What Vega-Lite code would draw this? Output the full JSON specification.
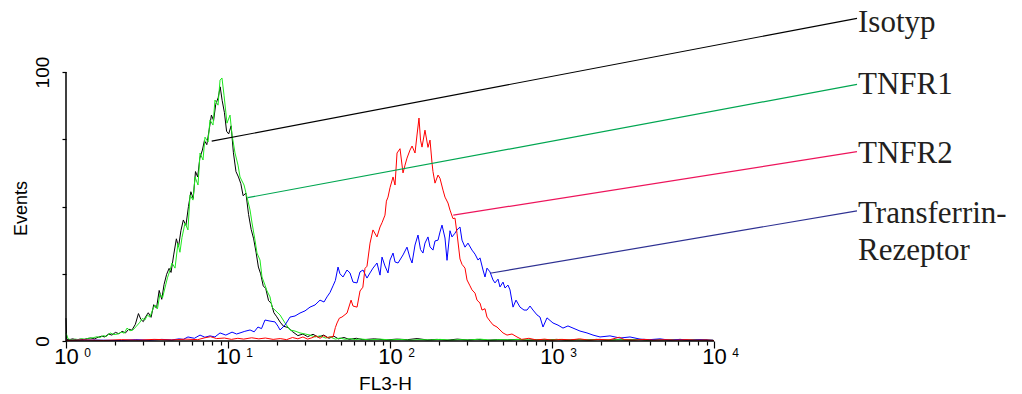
{
"$schema":"https://vega.github.io/schema/vega-lite/v6.json",
"width":956,"height":341,
"autosize":"none",
"padding":{"left":66,"top":0,"right":0,"bottom":53},
"background":"white",
"config":{"view":{"stroke":null},"font":"Liberation Sans"},
"datasets":{
"hist":[
{"s":"Isotyp","x":1.0,"y":8.5},{"s":"Isotyp","x":1.01,"y":0.6},{"s":"Isotyp","x":1.05,"y":0.5},{"s":"Isotyp","x":1.10,"y":0.8},{"s":"Isotyp","x":1.16,"y":0.4},{"s":"Isotyp","x":1.22,"y":0.7},{"s":"Isotyp","x":1.28,"y":0.5},{"s":"Isotyp","x":1.35,"y":0.9},{"s":"Isotyp","x":1.42,"y":1.1},{"s":"Isotyp","x":1.50,"y":0.8},{"s":"Isotyp","x":1.58,"y":1.4},{"s":"Isotyp","x":1.66,"y":1.8},{"s":"Isotyp","x":1.74,"y":1.5},{"s":"Isotyp","x":1.83,"y":2.6},{"s":"Isotyp","x":1.92,"y":2.2},{"s":"Isotyp","x":2.02,"y":3.2},{"s":"Isotyp","x":2.12,"y":2.7},{"s":"Isotyp","x":2.22,"y":3.6},{"s":"Isotyp","x":2.33,"y":3.0},{"s":"Isotyp","x":2.44,"y":4.4},{"s":"Isotyp","x":2.55,"y":4.0},{"s":"Isotyp","x":2.68,"y":6.2},{"s":"Isotyp","x":2.80,"y":10.2},{"s":"Isotyp","x":2.90,"y":8.0},{"s":"Isotyp","x":3.00,"y":7.2},{"s":"Isotyp","x":3.10,"y":9.0},{"s":"Isotyp","x":3.22,"y":10.5},{"s":"Isotyp","x":3.35,"y":8.8},{"s":"Isotyp","x":3.48,"y":13.5},{"s":"Isotyp","x":3.62,"y":12.2},{"s":"Isotyp","x":3.76,"y":18.8},{"s":"Isotyp","x":3.90,"y":15.5},{"s":"Isotyp","x":4.03,"y":21.0},{"s":"Isotyp","x":4.18,"y":24.8},{"s":"Isotyp","x":4.33,"y":27.0},{"s":"Isotyp","x":4.45,"y":25.5},{"s":"Isotyp","x":4.62,"y":32.0},{"s":"Isotyp","x":4.80,"y":38.0},{"s":"Isotyp","x":4.95,"y":35.0},{"s":"Isotyp","x":5.12,"y":41.0},{"s":"Isotyp","x":5.30,"y":45.0},{"s":"Isotyp","x":5.50,"y":43.0},{"s":"Isotyp","x":5.70,"y":50.0},{"s":"Isotyp","x":5.90,"y":55.5},{"s":"Isotyp","x":6.10,"y":53.0},{"s":"Isotyp","x":6.30,"y":63.0},{"s":"Isotyp","x":6.50,"y":61.0},{"s":"Isotyp","x":6.70,"y":68.0},{"s":"Isotyp","x":6.95,"y":71.0},{"s":"Isotyp","x":7.15,"y":74.5},{"s":"Isotyp","x":7.40,"y":73.0},{"s":"Isotyp","x":7.65,"y":78.5},{"s":"Isotyp","x":7.90,"y":84.0},{"s":"Isotyp","x":8.15,"y":82.0},{"s":"Isotyp","x":8.40,"y":88.0},{"s":"Isotyp","x":8.70,"y":90.5},{"s":"Isotyp","x":8.95,"y":94.5},{"s":"Isotyp","x":9.20,"y":89.5},{"s":"Isotyp","x":9.50,"y":85.0},{"s":"Isotyp","x":9.80,"y":78.0},{"s":"Isotyp","x":10.10,"y":77.0},{"s":"Isotyp","x":10.45,"y":80.0},{"s":"Isotyp","x":10.80,"y":70.0},{"s":"Isotyp","x":11.20,"y":63.0},{"s":"Isotyp","x":11.60,"y":61.0},{"s":"Isotyp","x":12.00,"y":58.5},{"s":"Isotyp","x":12.40,"y":54.0},{"s":"Isotyp","x":12.90,"y":55.0},{"s":"Isotyp","x":13.40,"y":47.0},{"s":"Isotyp","x":13.90,"y":41.5},{"s":"Isotyp","x":14.40,"y":38.0},{"s":"Isotyp","x":14.90,"y":33.0},{"s":"Isotyp","x":15.40,"y":27.5},{"s":"Isotyp","x":15.90,"y":25.0},{"s":"Isotyp","x":16.50,"y":20.5},{"s":"Isotyp","x":17.10,"y":19.5},{"s":"Isotyp","x":17.80,"y":15.0},{"s":"Isotyp","x":18.50,"y":14.0},{"s":"Isotyp","x":19.20,"y":10.5},{"s":"Isotyp","x":20.0,"y":9.0},{"s":"Isotyp","x":21.0,"y":7.0},{"s":"Isotyp","x":22.0,"y":5.5},{"s":"Isotyp","x":23.5,"y":5.0},{"s":"Isotyp","x":25.0,"y":3.5},{"s":"Isotyp","x":27.0,"y":2.0},{"s":"Isotyp","x":29.0,"y":2.6},{"s":"Isotyp","x":31.0,"y":1.6},{"s":"Isotyp","x":33.5,"y":2.5},{"s":"Isotyp","x":36.0,"y":1.4},{"s":"Isotyp","x":39.0,"y":2.2},{"s":"Isotyp","x":42.0,"y":1.0},{"s":"Isotyp","x":45.0,"y":1.8},{"s":"Isotyp","x":48.0,"y":0.8},{"s":"Isotyp","x":52.0,"y":1.3},{"s":"Isotyp","x":56.0,"y":0.6},{"s":"Isotyp","x":62.0,"y":1.0},{"s":"Isotyp","x":68.0,"y":0.5},{"s":"Isotyp","x":80.0,"y":0.8},{"s":"Isotyp","x":95.0,"y":0.4},{"s":"Isotyp","x":110,"y":0.7},{"s":"Isotyp","x":128,"y":0.5},{"s":"Isotyp","x":147,"y":0.9},{"s":"Isotyp","x":170,"y":0.4},{"s":"Isotyp","x":195,"y":0.6},{"s":"Isotyp","x":225,"y":0.3},{"s":"Isotyp","x":260,"y":0.7},{"s":"Isotyp","x":300,"y":0.4},{"s":"Isotyp","x":345,"y":0.6},{"s":"Isotyp","x":400,"y":0.3},{"s":"Isotyp","x":460,"y":0.5},{"s":"Isotyp","x":530,"y":0.4},{"s":"Isotyp","x":610,"y":0.6},{"s":"Isotyp","x":700,"y":0.3},{"s":"Isotyp","x":800,"y":0.5},{"s":"Isotyp","x":930,"y":0.4},{"s":"Isotyp","x":1070,"y":0.6},{"s":"Isotyp","x":1230,"y":0.3},{"s":"Isotyp","x":1420,"y":0.5},{"s":"Isotyp","x":1640,"y":0.4},{"s":"Isotyp","x":1890,"y":0.6},{"s":"Isotyp","x":2180,"y":0.3},{"s":"Isotyp","x":2510,"y":0.5},{"s":"Isotyp","x":2900,"y":0.4},{"s":"Isotyp","x":3350,"y":0.6},{"s":"Isotyp","x":3860,"y":0.3},{"s":"Isotyp","x":4450,"y":0.5},{"s":"Isotyp","x":5130,"y":0.4},{"s":"Isotyp","x":5920,"y":0.5},{"s":"Isotyp","x":6830,"y":0.3},{"s":"Isotyp","x":7880,"y":0.5},{"s":"Isotyp","x":9100,"y":0.4},
{"s":"TNFR1","x":1.0,"y":3.0},{"s":"TNFR1","x":1.03,"y":0.8},{"s":"TNFR1","x":1.08,"y":0.4},{"s":"TNFR1","x":1.14,"y":0.7},{"s":"TNFR1","x":1.20,"y":0.5},{"s":"TNFR1","x":1.26,"y":0.9},{"s":"TNFR1","x":1.31,"y":0.6},{"s":"TNFR1","x":1.38,"y":1.0},{"s":"TNFR1","x":1.47,"y":1.2},{"s":"TNFR1","x":1.55,"y":1.6},{"s":"TNFR1","x":1.62,"y":1.3},{"s":"TNFR1","x":1.70,"y":2.0},{"s":"TNFR1","x":1.78,"y":1.7},{"s":"TNFR1","x":1.87,"y":3.0},{"s":"TNFR1","x":1.98,"y":2.4},{"s":"TNFR1","x":2.09,"y":2.6},{"s":"TNFR1","x":2.20,"y":3.3},{"s":"TNFR1","x":2.29,"y":2.9},{"s":"TNFR1","x":2.38,"y":4.8},{"s":"TNFR1","x":2.48,"y":3.8},{"s":"TNFR1","x":2.59,"y":4.1},{"s":"TNFR1","x":2.72,"y":5.5},{"s":"TNFR1","x":2.86,"y":7.0},{"s":"TNFR1","x":2.96,"y":8.4},{"s":"TNFR1","x":3.07,"y":7.8},{"s":"TNFR1","x":3.18,"y":9.6},{"s":"TNFR1","x":3.30,"y":8.9},{"s":"TNFR1","x":3.42,"y":11.5},{"s":"TNFR1","x":3.54,"y":13.4},{"s":"TNFR1","x":3.67,"y":12.0},{"s":"TNFR1","x":3.80,"y":17.5},{"s":"TNFR1","x":3.94,"y":16.0},{"s":"TNFR1","x":4.08,"y":19.7},{"s":"TNFR1","x":4.23,"y":23.5},{"s":"TNFR1","x":4.39,"y":26.4},{"s":"TNFR1","x":4.51,"y":29.0},{"s":"TNFR1","x":4.71,"y":27.1},{"s":"TNFR1","x":4.91,"y":36.4},{"s":"TNFR1","x":5.05,"y":33.0},{"s":"TNFR1","x":5.20,"y":38.5},{"s":"TNFR1","x":5.43,"y":43.9},{"s":"TNFR1","x":5.66,"y":41.3},{"s":"TNFR1","x":5.83,"y":54.3},{"s":"TNFR1","x":6.08,"y":52.4},{"s":"TNFR1","x":6.26,"y":61.0},{"s":"TNFR1","x":6.53,"y":58.0},{"s":"TNFR1","x":6.72,"y":69.9},{"s":"TNFR1","x":7.01,"y":67.3},{"s":"TNFR1","x":7.21,"y":75.8},{"s":"TNFR1","x":7.53,"y":74.0},{"s":"TNFR1","x":7.74,"y":82.2},{"s":"TNFR1","x":8.08,"y":80.3},{"s":"TNFR1","x":8.31,"y":89.6},{"s":"TNFR1","x":8.68,"y":87.7},{"s":"TNFR1","x":8.93,"y":97.0},{"s":"TNFR1","x":9.18,"y":97.8},{"s":"TNFR1","x":9.45,"y":91.4},{"s":"TNFR1","x":9.86,"y":81.0},{"s":"TNFR1","x":10.29,"y":84.0},{"s":"TNFR1","x":10.59,"y":76.6},{"s":"TNFR1","x":11.05,"y":69.9},{"s":"TNFR1","x":11.53,"y":65.4},{"s":"TNFR1","x":11.86,"y":61.0},{"s":"TNFR1","x":12.56,"y":58.0},{"s":"TNFR1","x":13.10,"y":53.5},{"s":"TNFR1","x":13.68,"y":48.7},{"s":"TNFR1","x":14.07,"y":43.9},{"s":"TNFR1","x":14.68,"y":37.5},{"s":"TNFR1","x":15.10,"y":32.7},{"s":"TNFR1","x":15.76,"y":30.1},{"s":"TNFR1","x":16.21,"y":23.8},{"s":"TNFR1","x":16.92,"y":20.8},{"s":"TNFR1","x":17.41,"y":18.6},{"s":"TNFR1","x":18.17,"y":16.4},{"s":"TNFR1","x":18.69,"y":12.6},{"s":"TNFR1","x":19.50,"y":11.5},{"s":"TNFR1","x":20.35,"y":10.4},{"s":"TNFR1","x":20.94,"y":9.7},{"s":"TNFR1","x":22.48,"y":6.7},{"s":"TNFR1","x":24.14,"y":4.1},{"s":"TNFR1","x":25.92,"y":3.7},{"s":"TNFR1","x":27.83,"y":3.0},{"s":"TNFR1","x":30.0,"y":2.6},{"s":"TNFR1","x":32.08,"y":2.2},{"s":"TNFR1","x":34.5,"y":1.5},{"s":"TNFR1","x":36.98,"y":1.9},{"s":"TNFR1","x":40.0,"y":1.1},{"s":"TNFR1","x":42.62,"y":1.5},{"s":"TNFR1","x":46.0,"y":0.7},{"s":"TNFR1","x":49.14,"y":1.1},{"s":"TNFR1","x":53.0,"y":0.6},{"s":"TNFR1","x":56.64,"y":0.9},{"s":"TNFR1","x":61.0,"y":0.5},{"s":"TNFR1","x":65.29,"y":0.8},{"s":"TNFR1","x":75.0,"y":0.4},{"s":"TNFR1","x":86.77,"y":0.7},{"s":"TNFR1","x":100,"y":0.4},{"s":"TNFR1","x":115.3,"y":0.6},{"s":"TNFR1","x":135,"y":0.3},{"s":"TNFR1","x":153.2,"y":0.5},{"s":"TNFR1","x":180,"y":0.4},{"s":"TNFR1","x":203.5,"y":0.6},{"s":"TNFR1","x":240,"y":0.3},{"s":"TNFR1","x":270.4,"y":0.5},{"s":"TNFR1","x":310,"y":0.4},{"s":"TNFR1","x":359.4,"y":0.7},{"s":"TNFR1","x":420,"y":0.3},{"s":"TNFR1","x":477.5,"y":0.5},{"s":"TNFR1","x":550,"y":0.4},{"s":"TNFR1","x":634.6,"y":0.6},{"s":"TNFR1","x":740,"y":0.3},{"s":"TNFR1","x":843.2,"y":0.5},{"s":"TNFR1","x":1000,"y":0.4},{"s":"TNFR1","x":1120,"y":0.6},{"s":"TNFR1","x":1300,"y":0.3},{"s":"TNFR1","x":1489,"y":0.5},{"s":"TNFR1","x":1720,"y":0.4},{"s":"TNFR1","x":1979,"y":0.6},{"s":"TNFR1","x":2300,"y":0.3},{"s":"TNFR1","x":2629,"y":0.5},{"s":"TNFR1","x":3050,"y":0.4},{"s":"TNFR1","x":3493,"y":0.6},{"s":"TNFR1","x":4000,"y":0.3},{"s":"TNFR1","x":4642,"y":0.5},{"s":"TNFR1","x":5350,"y":0.4},{"s":"TNFR1","x":6169,"y":0.6},{"s":"TNFR1","x":7100,"y":0.4},{"s":"TNFR1","x":8197,"y":0.5},{"s":"TNFR1","x":9858,"y":0.3},
{"s":"Transferrin","x":1.0,"y":0.2},{"s":"Transferrin","x":1.3,"y":0.4},{"s":"Transferrin","x":1.7,"y":0.3},{"s":"Transferrin","x":2.2,"y":0.2},{"s":"Transferrin","x":2.7,"y":0.5},{"s":"Transferrin","x":3.3,"y":0.3},{"s":"Transferrin","x":3.9,"y":0.6},{"s":"Transferrin","x":4.5,"y":0.4},{"s":"Transferrin","x":5.0,"y":0.8},{"s":"Transferrin","x":5.3,"y":0.6},{"s":"Transferrin","x":5.66,"y":1.5},{"s":"Transferrin","x":6.2,"y":1.0},{"s":"Transferrin","x":6.72,"y":2.2},{"s":"Transferrin","x":7.2,"y":1.4},{"s":"Transferrin","x":7.74,"y":1.9},{"s":"Transferrin","x":8.3,"y":1.5},{"s":"Transferrin","x":8.93,"y":3.0},{"s":"Transferrin","x":9.7,"y":2.2},{"s":"Transferrin","x":10.59,"y":3.3},{"s":"Transferrin","x":11.3,"y":2.6},{"s":"Transferrin","x":11.86,"y":3.0},{"s":"Transferrin","x":12.7,"y":3.6},{"s":"Transferrin","x":13.68,"y":4.1},{"s":"Transferrin","x":14.5,"y":3.4},{"s":"Transferrin","x":15.31,"y":5.2},{"s":"Transferrin","x":16.1,"y":4.6},{"s":"Transferrin","x":16.92,"y":7.8},{"s":"Transferrin","x":18.17,"y":7.4},{"s":"Transferrin","x":19.50,"y":7.1},{"s":"Transferrin","x":20.35,"y":5.5},{"s":"Transferrin","x":20.94,"y":4.1},{"s":"Transferrin","x":22.48,"y":5.9},{"s":"Transferrin","x":24.14,"y":8.9},{"s":"Transferrin","x":25.92,"y":9.3},{"s":"Transferrin","x":27.83,"y":10.4},{"s":"Transferrin","x":29.88,"y":11.2},{"s":"Transferrin","x":32.08,"y":12.6},{"s":"Transferrin","x":34.44,"y":13.4},{"s":"Transferrin","x":36.98,"y":15.2},{"s":"Transferrin","x":39.14,"y":14.5},{"s":"Transferrin","x":40.84,"y":16.4},{"s":"Transferrin","x":42.6,"y":18.0},{"s":"Transferrin","x":44.48,"y":20.5},{"s":"Transferrin","x":46.0,"y":22.5},{"s":"Transferrin","x":47.77,"y":27.5},{"s":"Transferrin","x":49.1,"y":25.0},{"s":"Transferrin","x":51.28,"y":23.8},{"s":"Transferrin","x":54.28,"y":26.4},{"s":"Transferrin","x":56.64,"y":25.3},{"s":"Transferrin","x":59.11,"y":21.9},{"s":"Transferrin","x":62.56,"y":21.6},{"s":"Transferrin","x":65.29,"y":25.7},{"s":"Transferrin","x":68.13,"y":26.4},{"s":"Transferrin","x":72.11,"y":23.4},{"s":"Transferrin","x":75.25,"y":25.3},{"s":"Transferrin","x":78.53,"y":27.1},{"s":"Transferrin","x":83.14,"y":29.0},{"s":"Transferrin","x":86.77,"y":24.5},{"s":"Transferrin","x":89.26,"y":31.2},{"s":"Transferrin","x":93.1,"y":27.9},{"s":"Transferrin","x":97.2,"y":25.3},{"s":"Transferrin","x":100,"y":30.1},{"s":"Transferrin","x":104.4,"y":32.7},{"s":"Transferrin","x":107.4,"y":29.4},{"s":"Transferrin","x":112.1,"y":29.0},{"s":"Transferrin","x":120.3,"y":32.0},{"s":"Transferrin","x":127.3,"y":34.9},{"s":"Transferrin","x":132.9,"y":30.9},{"s":"Transferrin","x":136.8,"y":29.0},{"s":"Transferrin","x":142.7,"y":35.7},{"s":"Transferrin","x":148.9,"y":39.4},{"s":"Transferrin","x":154.3,"y":34.0},{"s":"Transferrin","x":159.8,"y":32.7},{"s":"Transferrin","x":164.4,"y":36.4},{"s":"Transferrin","x":171.6,"y":38.7},{"s":"Transferrin","x":176.6,"y":35.0},{"s":"Transferrin","x":184.2,"y":33.8},{"s":"Transferrin","x":189.6,"y":37.2},{"s":"Transferrin","x":197.9,"y":37.5},{"s":"Transferrin","x":203.5,"y":40.5},{"s":"Transferrin","x":209.4,"y":43.1},{"s":"Transferrin","x":218.5,"y":38.3},{"s":"Transferrin","x":224.9,"y":30.0},{"s":"Transferrin","x":234.6,"y":41.0},{"s":"Transferrin","x":241.4,"y":38.7},{"s":"Transferrin","x":251.9,"y":40.1},{"s":"Transferrin","x":259.2,"y":41.3},{"s":"Transferrin","x":270.4,"y":42.4},{"s":"Transferrin","x":278.3,"y":37.5},{"s":"Transferrin","x":290.4,"y":34.9},{"s":"Transferrin","x":303.0,"y":36.4},{"s":"Transferrin","x":320.8,"y":33.8},{"s":"Transferrin","x":334.8,"y":32.3},{"s":"Transferrin","x":349.4,"y":30.1},{"s":"Transferrin","x":359.4,"y":30.9},{"s":"Transferrin","x":375.1,"y":26.4},{"s":"Transferrin","x":385.9,"y":23.8},{"s":"Transferrin","x":396.9,"y":27.1},{"s":"Transferrin","x":414.2,"y":25.7},{"s":"Transferrin","x":432.3,"y":22.7},{"s":"Transferrin","x":444.8,"y":21.6},{"s":"Transferrin","x":464.2,"y":23.0},{"s":"Transferrin","x":477.5,"y":20.1},{"s":"Transferrin","x":498.5,"y":21.9},{"s":"Transferrin","x":512.9,"y":19.7},{"s":"Transferrin","x":535.0,"y":20.8},{"s":"Transferrin","x":550.5,"y":19.0},{"s":"Transferrin","x":574.6,"y":12.6},{"s":"Transferrin","x":599.5,"y":15.2},{"s":"Transferrin","x":634.6,"y":12.6},{"s":"Transferrin","x":671.9,"y":11.5},{"s":"Transferrin","x":701.0,"y":11.5},{"s":"Transferrin","x":731.6,"y":13.0},{"s":"Transferrin","x":763.4,"y":11.5},{"s":"Transferrin","x":808.1,"y":9.7},{"s":"Transferrin","x":843.2,"y":8.9},{"s":"Transferrin","x":880,"y":5.2},{"s":"Transferrin","x":931.3,"y":8.6},{"s":"Transferrin","x":1014,"y":6.7},{"s":"Transferrin","x":1089,"y":5.9},{"s":"Transferrin","x":1169,"y":4.8},{"s":"Transferrin","x":1255,"y":5.6},{"s":"Transferrin","x":1348,"y":4.8},{"s":"Transferrin","x":1489,"y":3.7},{"s":"Transferrin","x":1644,"y":3.0},{"s":"Transferrin","x":1791,"y":2.2},{"s":"Transferrin","x":1979,"y":1.5},{"s":"Transferrin","x":2280,"y":1.9},{"s":"Transferrin","x":2629,"y":1.1},{"s":"Transferrin","x":3030,"y":1.5},{"s":"Transferrin","x":3493,"y":0.7},{"s":"Transferrin","x":4000,"y":0.5},{"s":"Transferrin","x":4642,"y":0.8},{"s":"Transferrin","x":5350,"y":0.3},{"s":"Transferrin","x":6169,"y":0.6},{"s":"Transferrin","x":7100,"y":0.3},{"s":"Transferrin","x":8197,"y":0.5},{"s":"Transferrin","x":9858,"y":0.3},
{"s":"TNFR2","x":1.0,"y":0.2},{"s":"TNFR2","x":1.3,"y":0.4},{"s":"TNFR2","x":1.7,"y":0.2},{"s":"TNFR2","x":2.2,"y":0.5},{"s":"TNFR2","x":2.8,"y":0.3},{"s":"TNFR2","x":3.5,"y":0.6},{"s":"TNFR2","x":4.5,"y":0.4},{"s":"TNFR2","x":5.5,"y":0.7},{"s":"TNFR2","x":6.5,"y":0.5},{"s":"TNFR2","x":7.2,"y":1.2},{"s":"TNFR2","x":7.8,"y":1.6},{"s":"TNFR2","x":8.5,"y":0.9},{"s":"TNFR2","x":9.5,"y":1.1},{"s":"TNFR2","x":10.5,"y":0.6},{"s":"TNFR2","x":11.5,"y":1.0},{"s":"TNFR2","x":12.5,"y":0.7},{"s":"TNFR2","x":14,"y":1.2},{"s":"TNFR2","x":15.5,"y":0.8},{"s":"TNFR2","x":17,"y":1.1},{"s":"TNFR2","x":19,"y":0.6},{"s":"TNFR2","x":21,"y":0.9},{"s":"TNFR2","x":23,"y":0.5},{"s":"TNFR2","x":25,"y":1.3},{"s":"TNFR2","x":27,"y":0.8},{"s":"TNFR2","x":29,"y":1.5},{"s":"TNFR2","x":31,"y":0.7},{"s":"TNFR2","x":33,"y":1.2},{"s":"TNFR2","x":35,"y":1.9},{"s":"TNFR2","x":37,"y":1.0},{"s":"TNFR2","x":39,"y":2.0},{"s":"TNFR2","x":41,"y":1.2},{"s":"TNFR2","x":43,"y":1.6},{"s":"TNFR2","x":44.5,"y":1.5},{"s":"TNFR2","x":46.0,"y":5.0},{"s":"TNFR2","x":47.1,"y":6.7},{"s":"TNFR2","x":48.7,"y":8.5},{"s":"TNFR2","x":50.5,"y":8.9},{"s":"TNFR2","x":54.3,"y":10.4},{"s":"TNFR2","x":57.5,"y":15.2},{"s":"TNFR2","x":59.1,"y":13.0},{"s":"TNFR2","x":62.6,"y":12.6},{"s":"TNFR2","x":65.3,"y":18.6},{"s":"TNFR2","x":68.0,"y":20.0},{"s":"TNFR2","x":70.1,"y":27.0},{"s":"TNFR2","x":72.1,"y":27.8},{"s":"TNFR2","x":75.3,"y":36.4},{"s":"TNFR2","x":78.5,"y":41.3},{"s":"TNFR2","x":83.1,"y":38.7},{"s":"TNFR2","x":86.8,"y":42.4},{"s":"TNFR2","x":89.3,"y":44.0},{"s":"TNFR2","x":93.1,"y":46.8},{"s":"TNFR2","x":95.0,"y":52.0},{"s":"TNFR2","x":97.2,"y":53.5},{"s":"TNFR2","x":100,"y":57.0},{"s":"TNFR2","x":104.4,"y":61.0},{"s":"TNFR2","x":107.4,"y":58.0},{"s":"TNFR2","x":110.5,"y":69.9},{"s":"TNFR2","x":115.3,"y":71.5},{"s":"TNFR2","x":120.3,"y":62.5},{"s":"TNFR2","x":123.8,"y":65.4},{"s":"TNFR2","x":127.3,"y":68.0},{"s":"TNFR2","x":132.9,"y":71.0},{"s":"TNFR2","x":136.8,"y":72.5},{"s":"TNFR2","x":142.7,"y":69.9},{"s":"TNFR2","x":146.8,"y":76.6},{"s":"TNFR2","x":151.0,"y":82.9},{"s":"TNFR2","x":154.3,"y":74.7},{"s":"TNFR2","x":157.6,"y":72.1},{"s":"TNFR2","x":164.4,"y":78.4},{"s":"TNFR2","x":171.6,"y":72.0},{"s":"TNFR2","x":176.6,"y":74.7},{"s":"TNFR2","x":181.7,"y":66.2},{"s":"TNFR2","x":184.2,"y":63.0},{"s":"TNFR2","x":189.6,"y":58.7},{"s":"TNFR2","x":197.9,"y":61.7},{"s":"TNFR2","x":203.5,"y":60.5},{"s":"TNFR2","x":212.4,"y":56.1},{"s":"TNFR2","x":218.5,"y":53.5},{"s":"TNFR2","x":228.0,"y":51.3},{"s":"TNFR2","x":234.6,"y":48.7},{"s":"TNFR2","x":244.8,"y":45.5},{"s":"TNFR2","x":251.9,"y":45.7},{"s":"TNFR2","x":259.2,"y":40.0},{"s":"TNFR2","x":270.4,"y":30.5},{"s":"TNFR2","x":278.3,"y":28.5},{"s":"TNFR2","x":290.4,"y":27.1},{"s":"TNFR2","x":298.8,"y":22.7},{"s":"TNFR2","x":311.8,"y":20.5},{"s":"TNFR2","x":320.8,"y":19.0},{"s":"TNFR2","x":334.8,"y":17.8},{"s":"TNFR2","x":344.4,"y":15.2},{"s":"TNFR2","x":359.4,"y":14.1},{"s":"TNFR2","x":369.8,"y":11.5},{"s":"TNFR2","x":385.9,"y":12.0},{"s":"TNFR2","x":396.9,"y":8.9},{"s":"TNFR2","x":414.2,"y":7.4},{"s":"TNFR2","x":432.3,"y":6.0},{"s":"TNFR2","x":457.6,"y":5.2},{"s":"TNFR2","x":477.5,"y":4.1},{"s":"TNFR2","x":498.5,"y":3.0},{"s":"TNFR2","x":527.6,"y":2.2},{"s":"TNFR2","x":566.4,"y":2.6},{"s":"TNFR2","x":608.1,"y":1.5},{"s":"TNFR2","x":650,"y":0.6},{"s":"TNFR2","x":720,"y":1.0},{"s":"TNFR2","x":800,"y":0.4},{"s":"TNFR2","x":900,"y":0.7},{"s":"TNFR2","x":1000,"y":0.3},{"s":"TNFR2","x":1150,"y":0.6},{"s":"TNFR2","x":1300,"y":0.4},{"s":"TNFR2","x":1480,"y":0.8},{"s":"TNFR2","x":1700,"y":0.3},{"s":"TNFR2","x":1950,"y":0.6},{"s":"TNFR2","x":2250,"y":0.4},{"s":"TNFR2","x":2600,"y":1.4},{"s":"TNFR2","x":2800,"y":0.5},{"s":"TNFR2","x":3200,"y":0.3},{"s":"TNFR2","x":3700,"y":0.6},{"s":"TNFR2","x":4300,"y":0.3},{"s":"TNFR2","x":5000,"y":0.5},{"s":"TNFR2","x":5800,"y":0.3},{"s":"TNFR2","x":6700,"y":0.5},{"s":"TNFR2","x":7800,"y":0.3},{"s":"TNFR2","x":9000,"y":0.4},{"s":"TNFR2","x":10000,"y":0.2}
],
"frame":[{"x":1,"x2":10000,"y":0,"y2":0},{"x":1,"x2":1,"y":0,"y2":100}],
"leaders":[
{"s":"Isotyp","x":7.93,"y":74.3,"x2":76320,"y2":120.0},
{"s":"TNFR1","x":13.23,"y":53.3,"x2":76320,"y2":95.4},
{"s":"TNFR2","x":245.9,"y":46.8,"x2":76320,"y2":70.4},
{"s":"Transferrin","x":414.2,"y":25.2,"x2":76320,"y2":48.4}
],
"labels":[
{"t":"Isotyp","x":76320,"y":115.0},
{"t":"TNFR1","x":76320,"y":91.8},
{"t":"TNFR2","x":76320,"y":66.2},
{"t":"Transferrin-","x":76320,"y":44.0},
{"t":"Rezeptor","x":76320,"y":30.1}
]
},
"resolve":{"axis":{"x":"independent"}},
"layer":[
{
"data":{"name":"hist"},
"mark":{"type":"line","strokeWidth":1},
"encoding":{
"x":{"field":"x","type":"quantitative","scale":{"type":"log","domain":[1,796500],"nice":false},
"axis":{"orient":"bottom","values":[1,2,3,4,5,6,7,8,9,10,20,30,40,50,60,70,80,90,100,200,300,400,500,600,700,800,900,1000,2000,3000,4000,5000,6000,7000,8000,9000,10000],
"labelExpr":"indexof([1,10,100,1000,10000], datum.value) >= 0 ? '10' : ''",
"domain":false,"grid":false,"tickColor":"black","tickWidth":1.2,
"tickSize":{"condition":{"test":"indexof([1,10,100,1000,10000], datum.value) >= 0","value":7},"value":4},
"labelFont":"Liberation Sans","labelFontSize":22,"labelColor":"black","labelBaseline":"alphabetic","labelPadding":15,"labelFlush":false,"labelOverlap":false,
"title":"FL3-H","titleFont":"Liberation Sans","titleFontSize":19,"titleFontWeight":"normal","titleColor":"black","titleX":319,"titleY":48,"titleBaseline":"alphabetic","titleAlign":"center"}},
"y":{"field":"y","type":"quantitative","scale":{"domain":[0,126.8],"nice":false,"zero":true},
"axis":{"orient":"left","values":[0,25,50,75,100],"labelExpr":"datum.value==0 ? '0' : (datum.value==100 ? '100' : '')",
"domain":false,"grid":false,"tickSize":4,"tickColor":"black","tickWidth":1.2,
"labelAngle":270,"labelAlign":"center","labelBaseline":"alphabetic","labelPadding":14,"labelFont":"Liberation Sans","labelFontSize":19,"labelColor":"black","labelOverlap":false,"labelFlush":false,
"title":"Events","titleFont":"Liberation Sans","titleFontSize":18,"titleFontWeight":"normal","titleColor":"black","titleAngle":270,"titleX":-40,"titleY":208,"titleBaseline":"alphabetic","titleAlign":"center"}},
"color":{"field":"s","type":"nominal","scale":{"domain":["Isotyp","TNFR1","Transferrin","TNFR2"],"range":["#000000","#1ee81e","#0000ff","#ff0000"]},"legend":null}
}
},
{
"data":{"name":"frame"},
"mark":{"type":"rule","color":"black","strokeWidth":1.5},
"encoding":{
"x":{"field":"x","type":"quantitative","axis":{"orient":"bottom","values":[1,10,100,1000,10000],"labelExpr":"format(log(datum.value)/LN10, '.0f')","ticks":false,"tickSize":0,"domain":false,"grid":false,"labelFont":"Liberation Sans","labelFontSize":12,"labelColor":"black","labelOffset":21,"labelPadding":15,"labelBaseline":"alphabetic","labelFlush":false,"labelOverlap":false,"title":null}},
"x2":{"field":"x2"},
"y":{"field":"y","type":"quantitative"},
"y2":{"field":"y2"}
}
},
{
"data":{"name":"leaders"},
"mark":{"type":"rule","strokeWidth":1.2},
"encoding":{
"x":{"field":"x","type":"quantitative","axis":null},
"x2":{"field":"x2"},
"y":{"field":"y","type":"quantitative"},
"y2":{"field":"y2"},
"stroke":{"field":"s","type":"nominal","scale":{"domain":["Isotyp","TNFR1","TNFR2","Transferrin"],"range":["#000000","#00a651","#ed145b","#2e3192"]},"legend":null}
}
},
{
"data":{"name":"labels"},
"mark":{"type":"text","align":"left","baseline":"alphabetic","font":"Liberation Serif","fontSize":31,"color":"#231f20","dx":1},
"encoding":{
"x":{"field":"x","type":"quantitative","axis":null},
"y":{"field":"y","type":"quantitative"},
"text":{"field":"t"}
}
}
]
}
